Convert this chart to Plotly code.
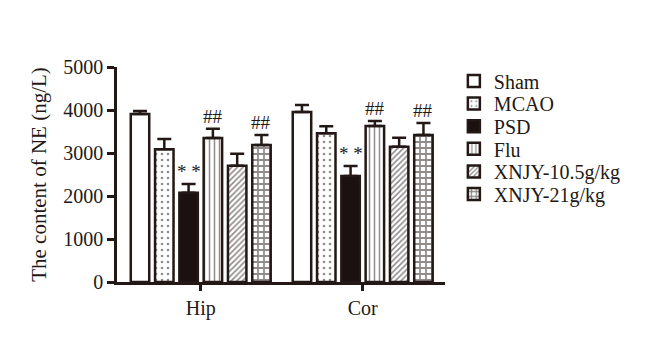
import plotly.graph_objects as go

regions = ["Hip", "Cor"]
groups = ["Sham", "MCAO", "PSD", "Flu", "XNJY-10.5g/kg", "XNJY-21g/kg"]
means = {
    "Sham": [3907, 3953],
    "MCAO": [3086, 3457],
    "PSD": [2077, 2465],
    "Flu": [3349, 3628],
    "XNJY-10.5g/kg": [2705, 3147],
    "XNJY-21g/kg": [3186, 3419],
}
errors = {
    "Sham": [70, 163],
    "MCAO": [240, 163],
    "PSD": [200, 233],
    "Flu": [216, 116],
    "XNJY-10.5g/kg": [280, 210],
    "XNJY-21g/kg": [233, 279],
}
marks = {"PSD": ["* *", "* *"], "Flu": ["##", "##"], "XNJY-21g/kg": ["##", "##"]}

styles = {
    "Sham": dict(color="white", shape=""),
    "MCAO": dict(color="white", shape="."),
    "PSD": dict(color="#1a1110", shape=""),
    "Flu": dict(color="white", shape="|"),
    "XNJY-10.5g/kg": dict(color="white", shape="/"),
    "XNJY-21g/kg": dict(color="white", shape="+"),
}
ink = "#231815"
xpos = [0, 1]
slot = 0.15
legend_names = ["legend"] + [f"legend{i}" for i in range(2, 7)]

fig = go.Figure()
for k, g in enumerate(groups):
    st = styles[g]
    pat = dict(shape=st["shape"], fgcolor=ink, bgcolor="white", size=5, solidity=0.35)
    if st["shape"] == ".":
        pat.update(size=6, solidity=0.15)
    if st["shape"] == "|":
        pat.update(size=5, solidity=0.3)
    if st["shape"] == "/":
        pat.update(size=4, solidity=0.4)
    if st["shape"] == "+":
        pat.update(size=6, solidity=0.5)
    fig.add_trace(go.Bar(
        name=g, x=xpos, y=means[g], legend=legend_names[k],
        marker=dict(color=st["color"], line=dict(color=ink, width=2.5),
                    pattern=pat if st["shape"] else None),
        error_y=dict(type="data", symmetric=False, array=errors[g],
                     arrayminus=[0, 0], color=ink, thickness=2.5, width=7),
    ))

for k, g in enumerate(groups):
    if g in marks:
        for i in range(2):
            fig.add_annotation(
                x=xpos[i] + (k - 2.5) * slot, y=means[g][i] + errors[g][i],
                text=marks[g][i], showarrow=False, yanchor="bottom", yshift=0,
                font=dict(family="Liberation Serif", size=19, color=ink))

legend_style = dict(xanchor="left", yanchor="middle", x=1.027,
                    font=dict(family="Liberation Serif", size=20, color=ink),
                    bgcolor="rgba(0,0,0,0)", borderwidth=0)
layout_legends = {}
for k, name in enumerate(legend_names):
    y_screen = 81 + 22.6 * k
    layout_legends[name] = dict(legend_style, y=(282 - y_screen) / 215)

fig.update_layout(
    width=652, height=350,
    margin=dict(l=109, r=215, t=59, b=76),
    paper_bgcolor="white", plot_bgcolor="white",
    barmode="group", bargap=0.1, bargroupgap=0.24,
    font=dict(family="Liberation Serif", size=20, color=ink),
    showlegend=True,
    xaxis=dict(range=[-0.517, 1.508], tickvals=xpos, ticktext=regions,
               showline=True, linecolor=ink, linewidth=2.5, ticks="outside",
               ticklen=6, tickwidth=2.5, tickcolor=ink, showgrid=False,
               zeroline=False, tickfont=dict(size=20)),
    yaxis=dict(range=[0, 5000], tickvals=[0, 1000, 2000, 3000, 4000, 5000],
               showline=True, linecolor=ink, linewidth=2.5, ticks="outside",
               ticklen=7, tickwidth=2.5, tickcolor=ink, showgrid=False,
               zeroline=False, tickfont=dict(size=20),
               title=dict(text="The content of NE (ng/L)", font=dict(size=21), standoff=11)),
    **layout_legends,
)

fig.write_html("out.html")
